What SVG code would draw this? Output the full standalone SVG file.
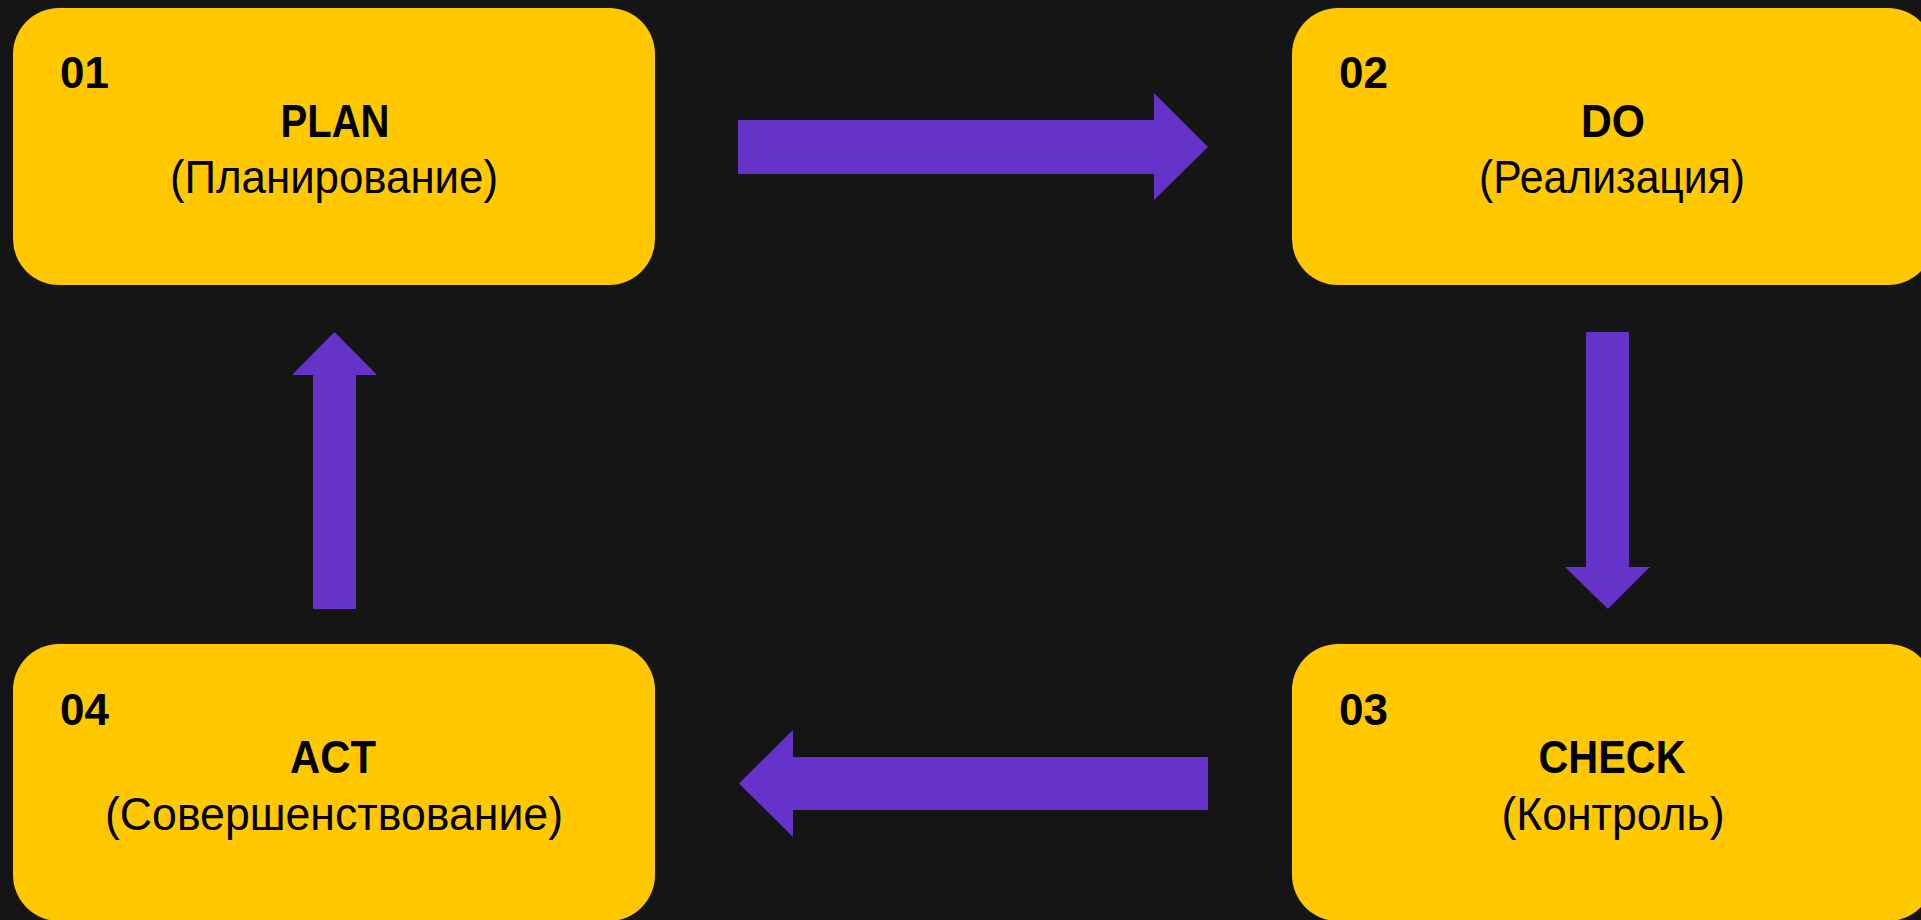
<svg xmlns="http://www.w3.org/2000/svg" width="1921" height="920" viewBox="0 0 1921 920">
<style>
.box{fill:#FFC800}
.num{font-family:"Liberation Sans",Arial,sans-serif;font-weight:bold;font-size:44px;fill:#000}
.ttl{font-family:"Liberation Sans",Arial,sans-serif;font-weight:bold;font-size:46px;fill:#000;text-anchor:middle}
.sub{font-family:"Liberation Sans",Arial,sans-serif;font-size:46px;fill:#000;text-anchor:middle}
.arr{fill:#6633C9}
</style>
<rect width="1921" height="920" fill="#151515"/>
<g id="connectors">
<polygon class="arr" points="738,120 1154,120 1154,93 1208,147 1154,200 1154,174 738,174"/>
<polygon class="arr" points="1586,332 1629,332 1629,567 1650,567 1608,609 1565,567 1586,567"/>
<polygon class="arr" points="1208,757 793,757 793,730 739,783.5 793,837 793,810 1208,810"/>
<polygon class="arr" points="313,609 356,609 356,375 377,375 334.5,332 292,375 313,375"/>
</g>
<g id="node-plan">
<rect class="box" x="13" y="8" width="642" height="277" rx="46"/>
<text class="num" x="60" y="88">01</text>
<text class="ttl" x="335" y="137" textLength="109" lengthAdjust="spacingAndGlyphs">PLAN</text>
<text class="sub" x="334" y="193" textLength="328" lengthAdjust="spacingAndGlyphs">(Планирование)</text>
</g>
<g id="node-do">
<rect class="box" x="1292" y="8" width="642" height="277" rx="46"/>
<text class="num" x="1339" y="88">02</text>
<text class="ttl" x="1613" y="137" textLength="64" lengthAdjust="spacingAndGlyphs">DO</text>
<text class="sub" x="1612" y="193" textLength="266" lengthAdjust="spacingAndGlyphs">(Реализация)</text>
</g>
<g id="node-check">
<rect class="box" x="1292" y="644" width="642" height="277" rx="46"/>
<text class="num" x="1339" y="725">03</text>
<text class="ttl" x="1612" y="773" textLength="147" lengthAdjust="spacingAndGlyphs">CHECK</text>
<text class="sub" x="1613" y="830" textLength="223" lengthAdjust="spacingAndGlyphs">(Контроль)</text>
</g>
<g id="node-act">
<rect class="box" x="13" y="644" width="642" height="277" rx="46"/>
<text class="num" x="60" y="725">04</text>
<text class="ttl" x="333" y="773" textLength="86" lengthAdjust="spacingAndGlyphs">ACT</text>
<text class="sub" x="334" y="830" textLength="458" lengthAdjust="spacingAndGlyphs">(Совершенствование)</text>
</g>
</svg>
